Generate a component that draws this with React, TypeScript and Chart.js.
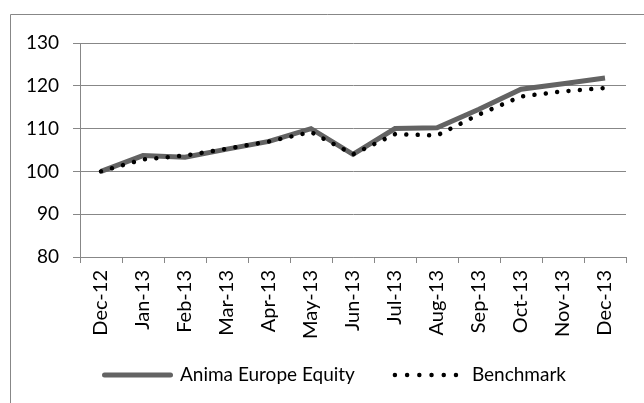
import React, { useEffect, useRef } from "react";
import { Chart, registerables } from "chart.js";

Chart.register(...registerables);

const categories = ["Dec-12", "Jan-13", "Feb-13", "Mar-13", "Apr-13", "May-13", "Jun-13", "Jul-13", "Aug-13", "Sep-13", "Oct-13", "Nov-13", "Dec-13"];
const animaValues = [100, 103.7, 103.3, 105.2, 107, 110, 104, 110, 110.2, 114.5, 119.2, 120.5, 121.8];
const benchmarkValues = [100, 102.8, 103.7, 105.3, 107, 109.2, 104, 108.7, 108.4, 113.3, 117.5, 118.7, 119.5];
const yTicks = [80, 90, 100, 110, 120, 130];

const FONT = "Lato";
const FS = 19;
const GRID = "#878787";
const ANIMA_COLOR = "#636363";
const BENCH_COLOR = "#000000";
const BENCH_DASH = [0.01, 11.4];

const framePlugin = {
  id: "frame",
  beforeDraw(chart: any) {
    const ctx = chart.ctx;
    ctx.save();
    ctx.strokeStyle = GRID;
    ctx.lineWidth = 1;
    ctx.beginPath();
    ctx.moveTo(10.5, 403);
    ctx.lineTo(10.5, 14.5);
    ctx.lineTo(644, 14.5);
    ctx.stroke();
    ctx.restore();
  },
};

const legendPlugin = {
  id: "customLegend",
  afterDraw(chart: any) {
    const ctx = chart.ctx;
    const ds = chart.data.datasets;
    const y = 375;
    ctx.save();
    ctx.font = `${FS}px ${FONT}`;
    ctx.textBaseline = "middle";
    ctx.textAlign = "left";
    ctx.fillStyle = "#000";
    let x = 104.5;
    ctx.strokeStyle = ds[0].borderColor;
    ctx.lineWidth = 5;
    ctx.lineCap = "round";
    ctx.setLineDash([]);
    ctx.beginPath();
    ctx.moveTo(x, y);
    ctx.lineTo(x + 66, y);
    ctx.stroke();
    x = 180;
    ctx.fillText(ds[0].label, x, y);
    x += ctx.measureText(ds[0].label).width + 40;
    ctx.strokeStyle = ds[1].borderColor;
    ctx.lineWidth = 4.5;
    ctx.lineCap = "round";
    ctx.setLineDash([0.01, 12.2]);
    ctx.beginPath();
    ctx.moveTo(x, y);
    ctx.lineTo(x + 62, y);
    ctx.stroke();
    ctx.setLineDash([]);
    x += 62 + 15;
    ctx.fillText(ds[1].label, x, y);
    ctx.restore();
  },
};

export default function App() {
  const ref = useRef<HTMLCanvasElement>(null);
  useEffect(() => {
    const chart = new Chart(ref.current as HTMLCanvasElement, {
      type: "line",
      data: {
        labels: categories,
        datasets: [
          {
            label: "Anima Europe Equity",
            data: animaValues,
            borderColor: ANIMA_COLOR,
            backgroundColor: ANIMA_COLOR,
            borderWidth: 5,
            pointRadius: 0,
            tension: 0,
            borderJoinStyle: "miter",
            order: 1,
          },
          {
            label: "Benchmark",
            data: benchmarkValues,
            borderColor: BENCH_COLOR,
            backgroundColor: BENCH_COLOR,
            borderWidth: 4.5,
            borderDash: BENCH_DASH,
            borderCapStyle: "round",
            pointRadius: 0,
            tension: 0,
            order: 0,
          },
        ],
      },
      options: {
        animation: false,
        responsive: false,
        devicePixelRatio: 1,
        layout: { padding: { top: 43, right: 18, bottom: 0, left: 0 } },
        plugins: {
          tooltip: { enabled: false },
          legend: { display: false },
        },
        scales: {
          x: {
            type: "category",
            offset: true,
            grid: { display: true, offset: true, drawOnChartArea: false, color: GRID, tickLength: 6 },
            border: { color: GRID },
            ticks: {
              minRotation: 90,
              maxRotation: 90,
              padding: 7,
              color: "#000",
              font: { family: FONT, size: 20 },
              autoSkip: false,
            },
            afterFit: (s: any) => {
              s.height = 146;
            },
          },
          y: {
            min: 80,
            max: 130,
            afterBuildTicks: (s: any) => {
              s.ticks = yTicks.map((v) => ({ value: v }));
            },
            grid: { color: GRID, tickLength: 7 },
            border: { color: GRID },
            ticks: {
              padding: 14,
              color: "#000",
              font: { family: FONT, size: FS },
            },
            afterFit: (s: any) => {
              s.width = 80;
            },
          },
        },
      },
      plugins: [framePlugin, legendPlugin],
    } as any);
    return () => chart.destroy();
  }, []);
  return (
    <div style={{ position: "fixed", left: 0, top: 0, width: 644, height: 403, background: "#fff" }}>
      <canvas ref={ref} width={644} height={403} style={{ display: "block" }} />
    </div>
  );
}
